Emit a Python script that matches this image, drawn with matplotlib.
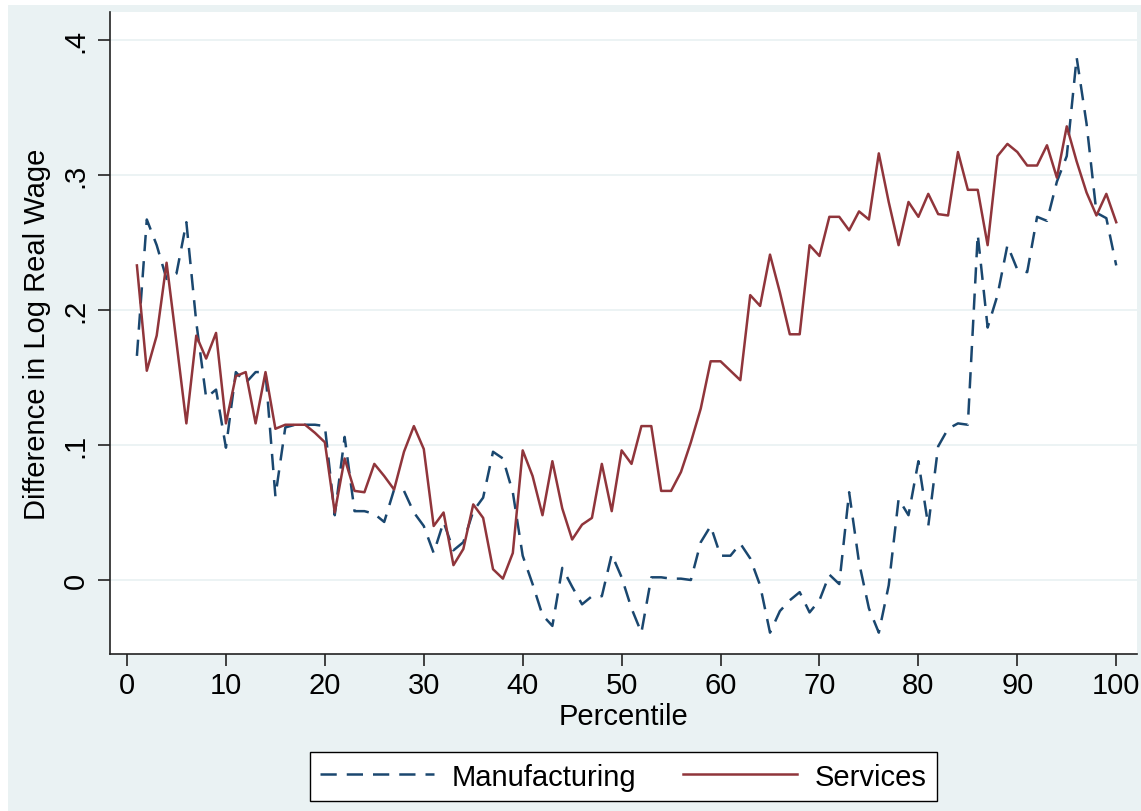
import matplotlib
matplotlib.use('Agg')
import matplotlib.pyplot as plt
from matplotlib.patches import Rectangle

# percentile positions and wage differences
percentile = list(range(1, 101))

manufacturing = [
    0.166, 0.267, 0.248, 0.223, 0.227, 0.265, 0.191, 0.135, 0.141, 0.098,
    0.154, 0.146, 0.154, 0.154, 0.062, 0.113, 0.115, 0.115, 0.115, 0.114,
    0.048, 0.106, 0.051, 0.051, 0.049, 0.043, 0.067, 0.066, 0.050, 0.040,
    0.020, 0.043, 0.022, 0.028, 0.051, 0.061, 0.095, 0.090, 0.065, 0.018,
    -0.003, -0.026, -0.034, 0.009, -0.005, -0.018, -0.012, -0.012, 0.019, 0.002,
    -0.021, -0.039, 0.002, 0.002, 0.001, 0.001, 0.000, 0.028, 0.040, 0.018,
    0.018, 0.027, 0.016, -0.004, -0.039, -0.023, -0.015, -0.009, -0.024, -0.015,
    0.004, -0.003, 0.065, 0.013, -0.021, -0.039, -0.004, 0.060, 0.048, 0.088,
    0.040, 0.099, 0.112, 0.116, 0.115, 0.256, 0.187, 0.211, 0.248, 0.230,
    0.228, 0.269, 0.266, 0.295, 0.314, 0.387, 0.338, 0.272, 0.268, 0.233,
]

services = [
    0.233, 0.155, 0.181, 0.235, 0.176, 0.116, 0.181, 0.164, 0.183, 0.116,
    0.151, 0.154, 0.116, 0.154, 0.112, 0.115, 0.115, 0.115, 0.109, 0.102,
    0.050, 0.090, 0.066, 0.065, 0.086, 0.077, 0.067, 0.095, 0.114, 0.097,
    0.040, 0.050, 0.011, 0.023, 0.056, 0.046, 0.008, 0.001, 0.020, 0.096,
    0.077, 0.048, 0.088, 0.053, 0.030, 0.041, 0.046, 0.086, 0.051, 0.096,
    0.086, 0.114, 0.114, 0.066, 0.066, 0.080, 0.102, 0.127, 0.162, 0.162,
    0.155, 0.148, 0.211, 0.203, 0.241, 0.213, 0.182, 0.182, 0.248, 0.240,
    0.269, 0.269, 0.259, 0.273, 0.267, 0.316, 0.280, 0.248, 0.280, 0.269,
    0.286, 0.271, 0.270, 0.317, 0.289, 0.289, 0.248, 0.314, 0.323, 0.317,
    0.307, 0.307, 0.322, 0.298, 0.336, 0.310, 0.287, 0.270, 0.286, 0.265,
]

xticks = [0, 10, 20, 30, 40, 50, 60, 70, 80, 90, 100]
yticks = [0, 0.1, 0.2, 0.3, 0.4]
ytick_labels = ['0', '.1', '.2', '.3', '.4']

BG = '#EAF2F3'
NAVY = '#1A476F'
MAROON = '#90353B'

plt.rcParams['font.family'] = ['Liberation Sans', 'DejaVu Sans']
plt.rcParams['font.size'] = 21

fig = plt.figure(figsize=(11.41, 8.12), dpi=100)
fig.patch.set_facecolor('white')
# stata-style outer region
fig.patches.append(Rectangle((8 / 1141, 0), 1, 1 - 6 / 812, transform=fig.transFigure,
                             facecolor=BG, edgecolor='none', zorder=-10))

ax = fig.add_axes([110 / 1141, 1 - 655 / 812, 1027 / 1141, 642 / 812])
ax.set_facecolor('white')

for y in yticks:
    ax.axhline(y, color=BG, lw=1.3, zorder=0)

ax.plot(percentile, manufacturing, color=NAVY, lw=1.8, dashes=(6.5, 4), label='Manufacturing')
ax.plot(percentile, services, color=MAROON, lw=1.8, label='Services')

ax.set_xlim(-1.72, 102.1)
ax.set_ylim(-0.0548, 0.4207)
ax.set_xticks(xticks)
ax.set_yticks(yticks)
ax.set_yticklabels(ytick_labels, rotation=90, va='center')

for side in ['top', 'right']:
    ax.spines[side].set_visible(False)
for side in ['left', 'bottom']:
    ax.spines[side].set_linewidth(1.2)
    ax.spines[side].set_color('#222222')

ax.tick_params(axis='both', length=8.6, width=1.2, color='#222222')
ax.tick_params(axis='x', pad=4)
ax.tick_params(axis='y', pad=6)

ax.set_xlabel('Percentile', labelpad=2)
ax.set_ylabel('Difference in Log Real Wage', labelpad=8)

leg = ax.legend(loc='center', bbox_to_anchor=(0.5, -0.191), ncol=2, frameon=True,
                fancybox=False, framealpha=1, edgecolor='black', handlelength=3.9,
                handletextpad=0.62, columnspacing=1.6, borderpad=0.35)
leg.get_frame().set_linewidth(1.0)

fig.savefig('out.png', dpi=100)
